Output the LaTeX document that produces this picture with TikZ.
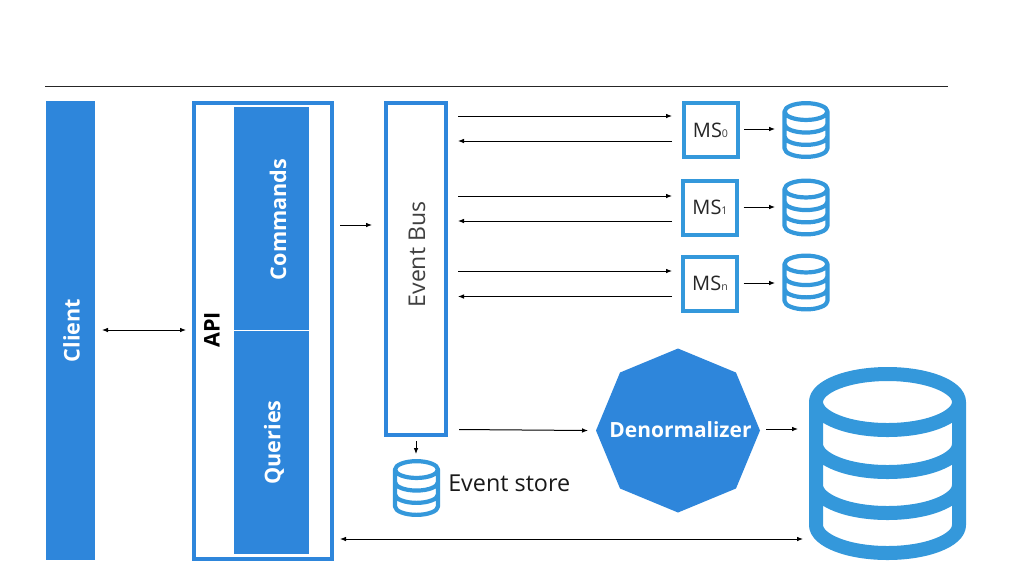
\documentclass[tikz,border=0pt]{standalone}
\usepackage{fontspec}
\setmainfont{Open Sans}
\usetikzlibrary{shapes.geometric,arrows.meta}
\definecolor{mainblue}{HTML}{2E86DB}
\definecolor{iconblue}{HTML}{3498DB}
\definecolor{bustext}{HTML}{404040}
\newcommand{\fsz}[1]{\fontsize{#1}{#1}\selectfont}
% name, centre x, centre y, scale (1 = large icon of 157x193 px)
\newcommand{\dbicon}[4]{%
  \node[minimum width=#4*118pt,minimum height=#4*145pt,inner sep=0pt,outer sep=0pt] (#1) at (#2,#3) {};
  \begin{scope}[shift={(#2,#3)},scale=#4,shift={(0,-61.5)}]
    \draw[iconblue,line width=#4*10.5pt,line cap=round,line join=round]
      (0,0) ellipse[x radius=71.5,y radius=28]
      (-71.5,0) -- (-71.5,123) arc[start angle=180,end angle=0,x radius=71.5,y radius=28] -- (71.5,0)
      (-71.5,42) arc[start angle=180,end angle=0,x radius=71.5,y radius=28]
      (-71.5,83) arc[start angle=180,end angle=0,x radius=71.5,y radius=28];
  \end{scope}}
\tikzset{
  x=0.75pt,y=-0.75pt,
  solid box/.style={fill=mainblue,draw=none,inner sep=0pt,outer sep=0pt,text=white,font=\fsz{16.2}\bfseries},
  frame box/.style={draw=mainblue,line width=3pt,fill=white,inner sep=0pt,outer sep=0pt},
  ms box/.style={draw=iconblue,line width=3pt,fill=white,inner sep=0pt,outer sep=0pt,minimum width=40.5pt,minimum height=40.5pt,font=\fsz{15},text=black!85},
  arr/.style={-{Latex[length=4.5pt,width=3.5pt]},black,line width=0.75pt},
  darr/.style={{Latex[length=4.5pt,width=3.5pt]}-{Latex[length=4.5pt,width=3.5pt]},black,line width=0.75pt},
}
\newcommand{\subidx}[1]{\textcolor{bustext}{\fsz{8}#1}}
\begin{document}
\begin{tikzpicture}
\useasboundingbox (0,0) rectangle (1013,587);
\fill[white] (0,0) rectangle (1013,587);
\coordinate (ruleL) at (45,86);
\coordinate (ruleR) at (948,86);
\draw[black!85,line width=0.75pt] (ruleL) -- (ruleR);

\node[solid box,minimum width=36.75pt,minimum height=344.25pt] (client) at (70.5,330.5) {};
\node[solid box,rotate=90] (clientlabel) at (71.5,330.5) {Client};

\node[frame box,minimum width=103.5pt,minimum height=342pt] (api) at (262.5,330.5) {};
\node[font=\fsz{16.2}\bfseries,rotate=90,inner sep=0pt] (apilabel) at (212,330) {API};
\node[solid box,minimum width=56.25pt,minimum height=167.25pt] (cmd) at (271.5,218.5) {};
\node[solid box,rotate=90] (cmdlabel) at (278,219.5) {Commands};
\node[solid box,minimum width=56.25pt,minimum height=167.25pt] (qry) at (271.5,442.5) {};
\node[solid box,rotate=90] (qrylabel) at (274,442.5) {Queries};

\node[draw=mainblue,line width=3pt,fill=white,inner sep=0pt,outer sep=0pt,minimum width=44.5pt,minimum height=248.5pt] (bus) at (416,269) {};
\node[rotate=90,font=\fsz{17.3},text=bustext,inner sep=0pt] (buslabel) at (417,254.5) {Event Bus};

\node[ms box] (ms0) at (710.5,130) {\raisebox{-0.75pt}{MS\subidx{0}}};
\node[ms box] (ms1) at (710,207.5) {\raisebox{-0.75pt}{MS\subidx{1}}};
\node[ms box] (msn) at (710,283.5) {\raisebox{-0.75pt}{MS\subidx{n}}};

\dbicon{db0}{806}{130}{0.3}
\dbicon{db1}{806}{207.5}{0.3}
\dbicon{dbn}{806}{282.5}{0.3}
\dbicon{dbstore}{416.5}{488}{0.3}
\dbicon{dbmain}{887.5}{463.5}{1}

\node[regular polygon,regular polygon sides=8,shape border rotate=22.5,fill=mainblue,inner sep=0pt,outer sep=0pt,minimum size=123pt] (den) at (678,430.5) {};
\node[text=white,font=\fsz{15.7}\bfseries,inner sep=0pt] (denlabel) at (680.5,430) {Denormalizer};
\node[font=\fsz{17.5},inner sep=0pt,anchor=west,text=black!90] (storelabel) at (448,483) {Event store};

\coordinate (clientR) at (102,330);
\coordinate (apiL) at (186,330);
\draw[darr] (clientR) -- (apiL);
\coordinate (apiR) at (340,225);
\coordinate (busL) at (372,225);
\draw[arr] (apiR) -- (busL);

\coordinate (b0a) at (458,116); \coordinate (m0a) at (672,116);
\coordinate (b0b) at (458,141); \coordinate (m0b) at (672,141);
\coordinate (b1a) at (458,196); \coordinate (m1a) at (672,196);
\coordinate (b1b) at (458,221); \coordinate (m1b) at (672,221);
\coordinate (bna) at (458,271); \coordinate (mna) at (672,271);
\coordinate (bnb) at (458,296.5); \coordinate (mnb) at (672,296.5);
\draw[arr] (b0a) -- (m0a);
\draw[arr] (m0b) -- (b0b);
\draw[arr] (b1a) -- (m1a);
\draw[arr] (m1b) -- (b1b);
\draw[arr] (bna) -- (mna);
\draw[arr] (mnb) -- (bnb);

\draw[arr,shorten <=4.9pt,shorten >=5.5pt] (ms0.east |- 0,129) -- (db0.west |- 0,129);
\draw[arr,shorten <=4.9pt,shorten >=5.5pt] (ms1.east |- 0,207) -- (db1.west |- 0,207);
\draw[arr,shorten <=4.9pt,shorten >=5.5pt] (msn.east |- 0,283) -- (dbn.west |- 0,283);

\coordinate (busOut) at (459,429.5);
\coordinate (denIn) at (588,430.5);
\draw[arr] (busOut) -- (denIn);
\coordinate (denOut) at (766,429);
\coordinate (mainIn) at (798,429);
\draw[arr] (denOut) -- (mainIn);
\coordinate (busDown) at (416,441);
\coordinate (storeUp) at (416,454);
\draw[arr] (busDown) -- (storeUp);
\coordinate (apiBottom) at (340,539);
\coordinate (mainLeft) at (803,539);
\draw[darr] (apiBottom) -- (mainLeft);
\end{tikzpicture}
\end{document}
